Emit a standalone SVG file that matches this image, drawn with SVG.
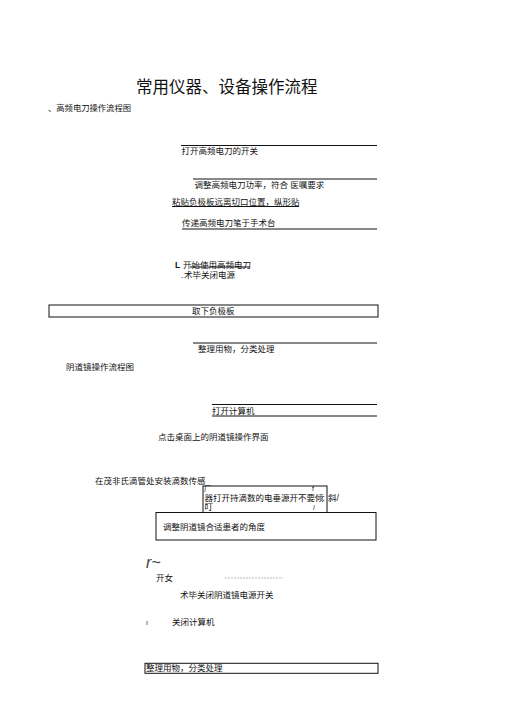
<svg xmlns="http://www.w3.org/2000/svg" width="505" height="714" viewBox="0 0 505 714">
<style>
text{font-family:"Liberation Sans","Noto Sans CJK SC",sans-serif;fill:#111;font-size:8.5px}
.t{font-size:16.5px;fill:#111}
.ln{stroke:#111;stroke-width:1;fill:none}
.bx{stroke:#111;stroke-width:1;fill:#fff}
.sm{font-size:7px}
</style>
<rect width="505" height="714" fill="#fff"/>
<g id="title"><text class="t" x="136" y="92.5">常用仪器、设备操作流程</text></g>
<g id="sec1"><text x="48" y="111" style="font-size:8.3px">、高频电刀操作流程图</text></g>
<g id="n1"><line class="ln" x1="181" y1="145.5" x2="377" y2="145.5"/><text x="181.5" y="154">打开高频电刀的开关</text></g>
<g id="n2"><line class="ln" x1="193" y1="179" x2="377" y2="179"/><text x="194.5" y="188">调整高频电刀功率，符合 医嘱要求</text></g>
<g id="n3"><text x="172" y="205">粘贴负极板远离切口位置，纵形贴</text><line class="ln" x1="172" y1="206.5" x2="299" y2="206.5"/></g>
<g id="n4"><text x="182" y="226">传递高频电刀笔于手术台</text><line class="ln" x1="182" y1="229" x2="377" y2="229"/></g>
<g id="n5"><text x="175" y="268" style="font-weight:bold">L</text><text x="183" y="268">开始使用高频电刀</text><line class="ln" x1="190" y1="267" x2="250" y2="267"/></g>
<g id="n6"><text x="181" y="278">.</text><text x="184" y="278">术毕关闭电源</text></g>
<g id="n7"><rect class="bx" x="49" y="305" width="329" height="12"/><text x="192" y="314">取下负极板</text></g>
<g id="n8"><line class="ln" x1="193" y1="343" x2="377" y2="343"/><text x="198" y="352">整理用物，分类处理</text></g>
<g id="sec2"><text x="66" y="370">阴道镜操作流程图</text></g>
<g id="n9"><line class="ln" x1="212" y1="404.5" x2="377" y2="404.5"/><text x="212" y="413.5">打开计算机</text><line class="ln" x1="212" y1="416" x2="377" y2="416"/></g>
<g id="n10"><text x="158" y="440">点击桌面上的阴道镜操作界面</text></g>
<g id="n11"><text x="95" y="484">在茂非氏滴管处安装滴数传感</text></g>
<g id="n12"><rect class="bx" x="203" y="486" width="124" height="26.5"/>
<text class="sm" x="204" y="491">厂</text><text class="sm" x="312" y="491">f</text>
<text x="204.5" y="501">器打开持滴数的电垂源开不要倾</text><text x="322.5" y="501">:</text><text x="328" y="501">斜/</text>
<text x="204.5" y="510">叮</text><text class="sm" x="313" y="510">/</text></g>
<g id="n13"><rect class="bx" x="156" y="512.5" width="220" height="27.5"/><text x="163" y="530">调整阴道镜合适患者的角度</text></g>
<g id="n14"><text x="146" y="568" style="font-style:italic;font-size:16px;fill:#444">r~</text>
<text x="156" y="581">开女</text><line x1="225" y1="578" x2="283" y2="578" stroke="#aaa" stroke-width="0.8" stroke-dasharray="2,1"/></g>
<g id="n15"><text x="180" y="598">术毕关闭阴道镜电源开关</text></g>
<g id="n16"><text x="146" y="625" style="font-size:7px">ı</text><text x="172" y="625">关闭计算机</text></g>
<g id="n17"><rect class="bx" x="145" y="663.3" width="233" height="10"/><text x="146" y="671">整理用物，分类处理</text></g>
<g id="connectors"></g>
</svg>
